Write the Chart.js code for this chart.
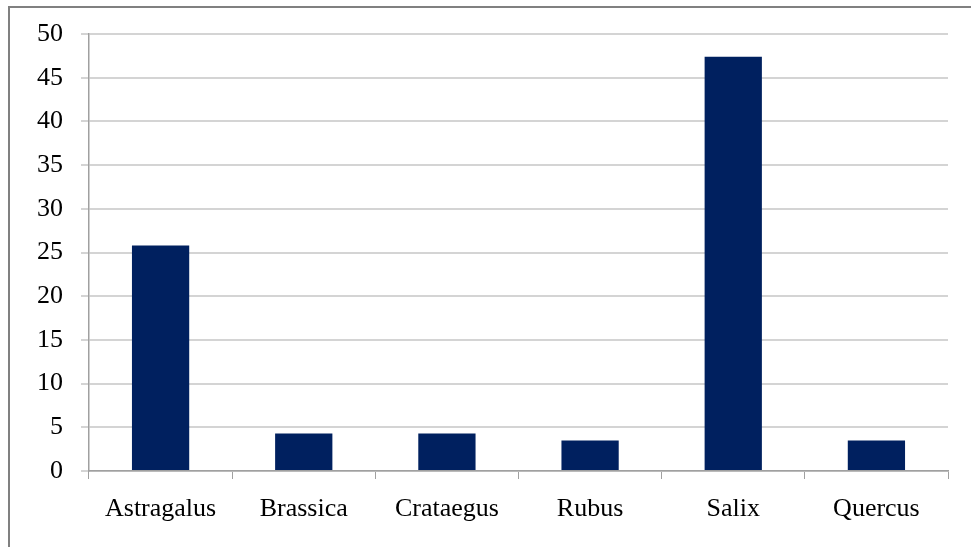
<!DOCTYPE html>
<html>
<head>
<meta charset="utf-8">
<script src="https://cdn.jsdelivr.net/npm/chart.js@4/dist/chart.umd.min.js"></script>
<style>
  html, body { margin: 0; padding: 0; background: #fff; }
  #wrap { position: relative; width: 971px; height: 547px; overflow: hidden; }
  #frame {
    position: absolute; left: 8px; top: 6px; width: 980px; height: 560px;
    border-top: 2px solid #808080; border-left: 2px solid #808080;
  }
  canvas { position: absolute; left: 0; top: 0; }
</style>
</head>
<body>
<div id="wrap">
  <div id="frame"></div>
  <canvas id="chart" width="971" height="547"></canvas>
</div>
<script>
const genera = ["Astragalus", "Brassica", "Crataegus", "Rubus", "Salix", "Quercus"];
const shares = [25.8, 4.3, 4.3, 3.5, 47.4, 3.5];
const yTicks = [0, 5, 10, 15, 20, 25, 30, 35, 40, 45, 50];

const font = { family: "'Liberation Serif', 'Times New Roman', serif", size: 26 };

new Chart(document.getElementById("chart"), {
  type: "bar",
  data: {
    labels: genera,
    datasets: [
      {
        data: shares,
        backgroundColor: "#00205f",
        barPercentage: 0.4,
        categoryPercentage: 1,
      },
    ],
  },
  options: {
    responsive: false,
    animation: false,
    layout: { padding: { top: 34, right: 23, left: 0, bottom: 0 } },
    plugins: {
      legend: { display: false },
      tooltip: { enabled: false },
    },
    scales: {
      x: {
        grid: {
          drawOnChartArea: false,
          drawTicks: true,
          tickLength: 8,
          color: "#a0a0a0",
        },
        border: { color: "#a0a0a0", width: 1.5 },
        ticks: { color: "#000", font: font, padding: 15 },
        afterFit: (scale) => {
          scale.height = 547 - 471;
        },
      },
      y: {
        min: 0,
        max: 50,
        afterBuildTicks: (scale) => {
          scale.ticks = yTicks.map((v) => ({ value: v }));
        },
        grid: { color: "#d4d4d4", lineWidth: 2, tickLength: 8 },
        border: { color: "#a0a0a0", width: 1.5 },
        ticks: { color: "#000", font: font, padding: 18 },
        afterFit: (scale) => {
          scale.width = 89;
        },
      },
    },
  },
});
</script>
</body>
</html>
